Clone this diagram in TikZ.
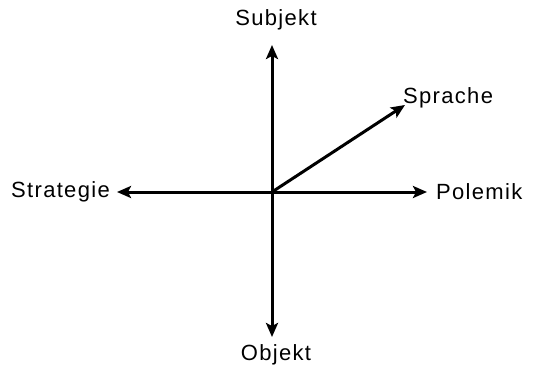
\documentclass[tikz,border=0pt]{standalone}
\usepackage{fontspec}
\setmainfont{Liberation Sans}[LetterSpace=6]
\usetikzlibrary{arrows.meta}
\begin{document}
\begin{tikzpicture}[x=1pt,y=-1pt,
  axis/.style={line width=3pt,-{Stealth[length=14pt,width=12pt,inset=3pt]}},
  lbl/.style={font=\fontsize{22}{26}\selectfont,inner sep=0pt}]
\useasboundingbox (0,0) rectangle (533,370);
\coordinate (o) at (272,192);
\node[lbl] (subj) at (276,20) {Subjekt};
\node[lbl] (obj) at (276,355) {Objekt};
\node[lbl,anchor=west] (strat) at (11,192) {Strategie};
\node[lbl,anchor=west] (pol) at (436,192) {Polemik};
\node[lbl,anchor=west] (spr) at (403,98) {Sprache};
\coordinate (tS) at (272,45);
\coordinate (tO) at (272,337);
\coordinate (tL) at (117,192);
\coordinate (tR) at (427,192);
\coordinate (tP) at (405,105);
\draw[axis] (o) -- (tS);
\draw[axis] (o) -- (tO);
\draw[axis] (o) -- (tL);
\draw[axis] (o) -- (tR);
\draw[axis] (o) -- (tP);
\end{tikzpicture}
\end{document}
